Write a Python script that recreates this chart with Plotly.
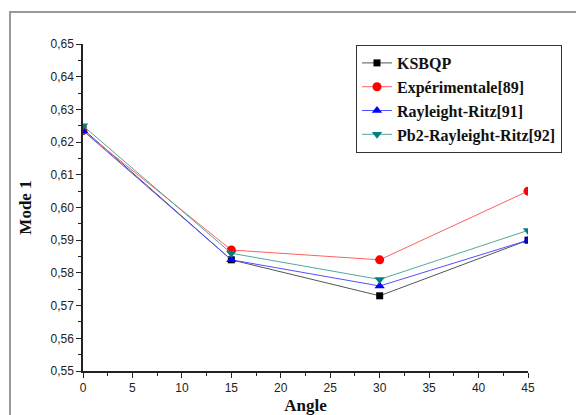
import plotly.graph_objects as go

angles = [0, 15, 30, 45]
ksbqp = [0.624, 0.584, 0.573, 0.590]
experimentale = [0.6235, 0.587, 0.584, 0.605]
rayleigh_ritz = [0.6235, 0.584, 0.576, 0.590]
pb2_rayleigh_ritz = [0.625, 0.586, 0.578, 0.593]

names = ["KSBQP", "Expérimentale[89]", "Rayleight-Ritz[91]", "Pb2-Rayleight-Ritz[92]"]
series = [ksbqp, experimentale, rayleigh_ritz, pb2_rayleigh_ritz]
line_colors = ["#555555", "#ff6060", "#5050ff", "#50a8a0"]
marker_colors = ["#000000", "#ff0000", "#0000ff", "#008080"]
symbols = ["square", "circle", "triangle-up", "triangle-down"]
sizes = [7, 9, 9, 9]

fig = go.Figure()
for n, s, lc, mc, sym, sz in zip(names, series, line_colors, marker_colors, symbols, sizes):
    fig.add_trace(go.Scatter(
        x=angles, y=s, name="<b>" + n + "</b>", mode="lines+markers",
        line=dict(color=lc, width=1),
        marker=dict(color=mc, symbol=sym, size=sz),
        cliponaxis=True,
    ))

axis_common = dict(
    showgrid=False, zeroline=False, showline=True, linecolor="#222222", linewidth=1.5,
    ticks="outside", ticklen=5, tickwidth=1.2, tickcolor="#222222",
    tickfont=dict(family="Liberation Sans, Arial", size=12, color="#222222"),
    mirror=False, automargin=False,
)

fig.update_layout(
    width=576, height=415,
    margin=dict(l=83, r=48, t=44, b=44, autoexpand=False),
    plot_bgcolor="white", paper_bgcolor="white",
    separators=", ",
    showlegend=True,
    legend=dict(
        xref="container", yref="container",
        x=356 / 576, y=1 - 45 / 415, xanchor="left", yanchor="top",
        bordercolor="#333333", borderwidth=1, bgcolor="white",
        font=dict(family="Liberation Serif, Times New Roman", size=16, color="#111111"),
        tracegroupgap=0, itemsizing="trace",
    ),
    xaxis=dict(
        range=[0, 45], tickmode="linear", tick0=0, dtick=5,
        minor=dict(ticks="outside", ticklen=3, tickcolor="#222222", dtick=2.5, tick0=0),
        title=dict(text="<b>Angle</b>",
                   font=dict(family="Liberation Serif, Times New Roman", size=17, color="#111111")),
        **axis_common,
    ),
    yaxis=dict(
        range=[0.55, 0.65], tickmode="linear", tick0=0.55, dtick=0.01, tickformat=".2f",
        minor=dict(ticks="outside", ticklen=3, tickcolor="#222222", dtick=0.005, tick0=0.55),
        title=dict(text="<b>Mode 1</b>",
                   font=dict(family="Liberation Serif, Times New Roman", size=17, color="#111111")),
        **axis_common,
    ),
    shapes=[dict(
        type="rect", xref="paper", yref="paper",
        x0=(10 - 83) / 445, x1=(600 - 83) / 445,
        y0=(371 - 430) / 327, y1=(371 - 12) / 327,
        line=dict(color="#999999", width=2), layer="below",
    )],
)

fig.write_html("out.html")
